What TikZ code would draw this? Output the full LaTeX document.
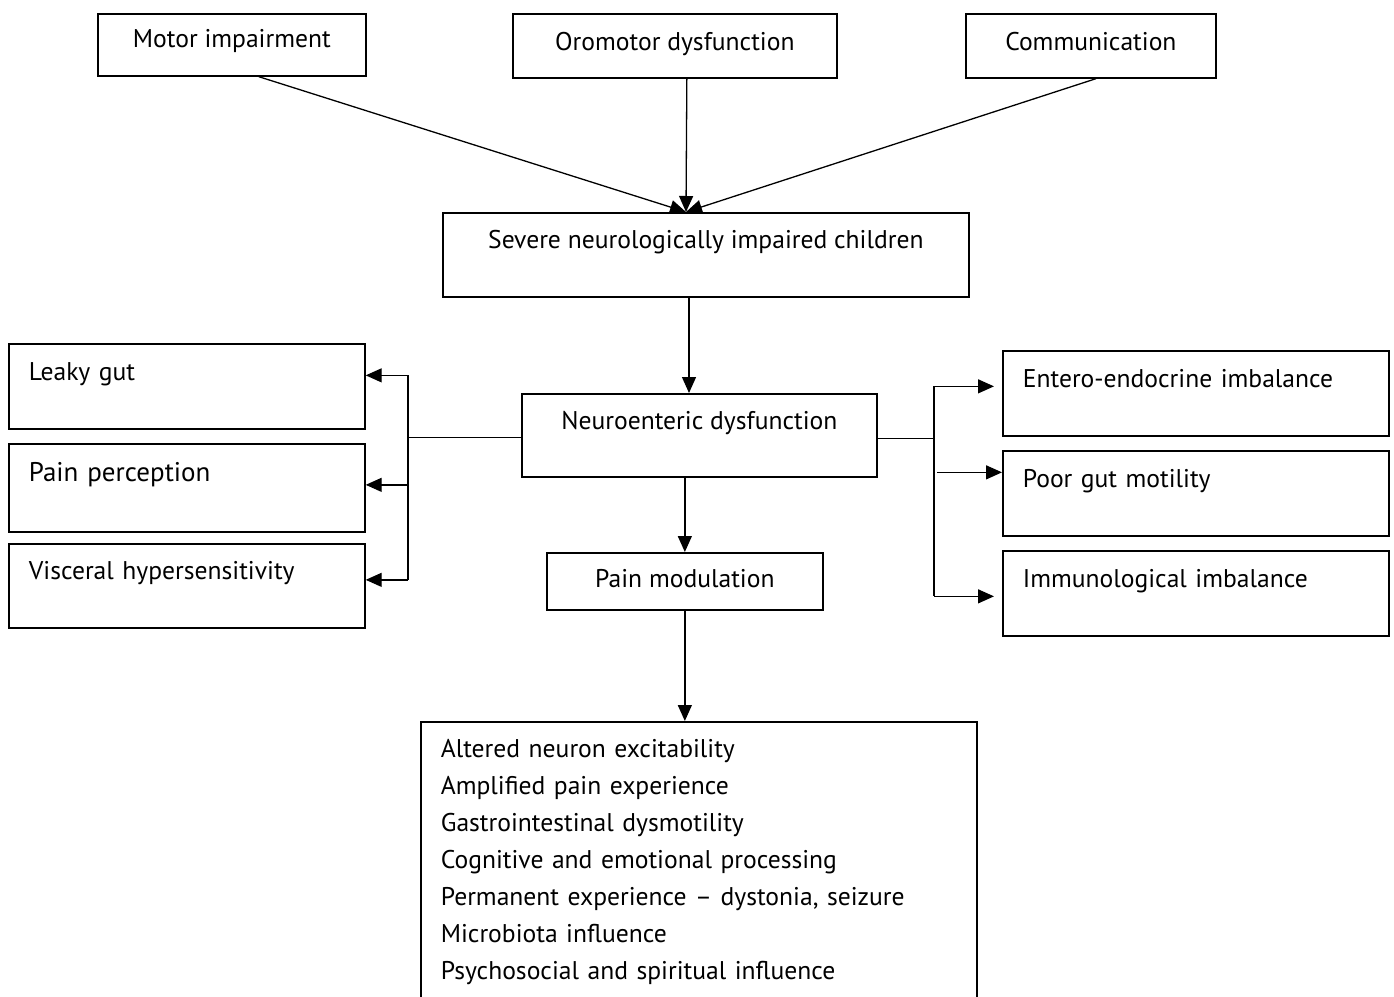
\documentclass[tikz,border=0pt]{standalone}
\usepackage{fontspec}
\setmainfont{PT Sans}
\usetikzlibrary{arrows.meta, calc}

\begin{document}
\begin{tikzpicture}[x=1pt, y=-1pt, font=\fontsize{25.6}{37}\selectfont,
    box/.style={draw, line width=1.7pt, inner sep=0pt, align=center, anchor=north west},
    side/.style={box, align=left, inner xsep=20pt, text height=37pt, text depth=48pt},
    line/.style={line width=1.3pt},
    arrow/.style={-{Triangle[length=16pt, width=14pt]}, line width=1.3pt}
]
    \useasboundingbox (0,0) rectangle (1394,996);

    \node[box, minimum width=268pt, text height=34pt, text depth=28pt] (motor) at (97,13) {Motor impairment};
    \node[box, minimum width=324pt, text height=37pt, text depth=27pt] (oromotor) at (512,13) {Oromotor dysfunction};
    \node[box, minimum width=250pt, text height=37pt, text depth=27pt] (comm) at (965,13) {Communication};
    \node[box, minimum width=526pt, text height=36pt, text depth=48pt] (severe) at (442,212) {Severe neurologically impaired children};
    \node[box, minimum width=355pt, text height=36pt, text depth=47pt] (neuro) at (521,393) {Neuroenteric dysfunction};
    \node[box, minimum width=276pt, text height=35pt, text depth=22pt] (painmod) at (546,552) {Pain modulation};

    \node[side, text width=316pt] (leaky) at (8,343) {Leaky gut};
    \node[side, text width=316pt, text height=38pt, text depth=50pt, font=\fontsize{27}{37}\selectfont] (pain) at (8,443) {Pain perception};
    \node[side, text width=316pt, text height=36pt] (visc) at (8,543) {Visceral hypersensitivity};

    \node[side, text width=346pt] (entero) at (1002,350) {Entero-endocrine imbalance};
    \node[side, text width=346pt] (motility) at (1002,450) {Poor gut motility};
    \node[side, text width=346pt] (immuno) at (1002,550) {Immunological imbalance};

    \node[side, text width=516pt, text height=36pt, text depth=260pt] (effects) at (420,721) {Altered neuron excitability\\
        Amplified pain experience\\
        Gastrointestinal dysmotility\\
        Cognitive and emotional processing\\
        Permanent experience -- dystonia, seizure\\
        Microbiota influence\\
        Psychosocial and spiritual influence};

    % converging arrows into the centre box
    \coordinate (hub) at ($(severe.north west)+(244,0)$);
    \draw[arrow] ($(motor.south)+(27,0)$) -- (hub);
    \draw[arrow] ($(oromotor.south)+(12,0)$) -- (hub);
    \draw[arrow] ($(comm.south)+(5,0)$) -- (hub);

    \draw[arrow] ($(severe.south west)+(247,0)$) -- ($(neuro.north west)+(168,0)$);
    \draw[arrow] (painmod.north |- neuro.south) -- (painmod.north);
    \draw[arrow] (painmod.south) -- (painmod.south |- effects.north);

    % left branch
    \coordinate (lbus) at (408,437);
    \draw[line] ([yshift=-2pt]neuro.west) -- ([yshift=-2pt]neuro.west -| lbus);
    \draw[line] ([yshift=11pt]leaky.east -| lbus) -- ([yshift=6pt]visc.east -| lbus);
    \foreach \n/\s in {leaky/11, pain/3, visc/6}
        \draw[arrow] ([yshift=\s pt]\n.east -| lbus) -- ([yshift=\s pt]\n.east);

    % right branch
    \coordinate (rbus) at (934,437);
    \draw[line] ([yshift=-3pt]neuro.east) -- ([yshift=-3pt]neuro.east -| rbus);
    \draw[line] ([yshift=7pt]entero.east -| rbus) -- ([yshift=-3pt]immuno.east -| rbus);
    \draw[arrow] ([yshift=7pt]entero.east -| rbus) -- ([xshift=-8pt, yshift=7pt]entero.west);
    \draw[arrow] ([xshift=3pt, yshift=21pt]motility.east -| rbus) -- ([yshift=21pt]motility.west);
    \draw[arrow] ([yshift=-3pt]immuno.east -| rbus) -- ([xshift=-8pt, yshift=-3pt]immuno.west);
\end{tikzpicture}
\end{document}
